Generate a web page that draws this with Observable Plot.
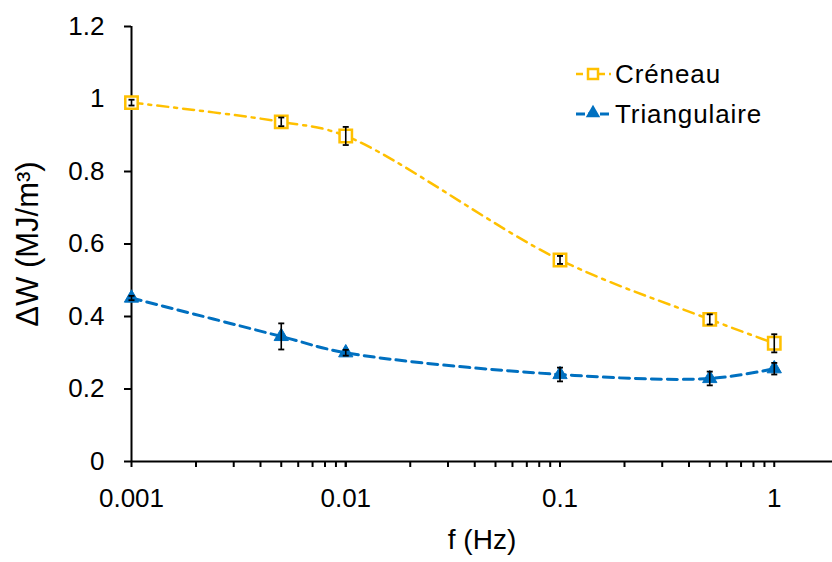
<!DOCTYPE html>
<html>
<head>
<meta charset="utf-8">
<script src="https://cdn.jsdelivr.net/npm/d3@7"></script>
<script src="https://cdn.jsdelivr.net/npm/@observablehq/plot@0.6"></script>
<style>
  body { margin: 0; background: #fff; font-family: "Liberation Sans", Arial, sans-serif; }
  #wrap { position: relative; width: 832px; height: 562px; }
  #legend { position: absolute; left: 573px; top: 54px; font-size: 26px; letter-spacing: 0.9px; color: #000; }
  #legend div { display: flex; align-items: center; height: 40px; }
  #legend svg { margin-right: 2px; }
</style>
</head>
<body>
<div id="wrap">
  <div id="chart"></div>
  <div id="legend"></div>
</div>
<script>
const freqs = [0.001, 0.005, 0.01, 0.1, 0.5, 1];
const creneau = [0.99, 0.937, 0.898, 0.556, 0.392, 0.326];
const creneauErr = [0.008, 0.012, 0.025, 0.011, 0.014, 0.025];
const triang = [0.451, 0.345, 0.300, 0.240, 0.229, 0.256];
const triangErr = [0.006, 0.036, 0.008, 0.019, 0.019, 0.016];
const seriesNames = ["Créneau", "Triangulaire"];
const colors = {"Créneau": "#FFC000", "Triangulaire": "#0070C0"};
const xTickLabels = [0.001, 0.01, 0.1, 1];
const yTicks = [0, 0.2, 0.4, 0.6, 0.8, 1, 1.2];
const xTitle = "f (Hz)";
const yTitle = "ΔW (MJ/m³)";

const cData = freqs.map((f, i) => ({f, v: creneau[i], e: creneauErr[i]}));
const tData = freqs.map((f, i) => ({f, v: triang[i], e: triangErr[i]}));
const allData = cData.concat(tData);

const minorTicks = [];
for (const d of [0.001, 0.01, 0.1]) for (let k = 1; k <= 10; k++) minorTicks.push(+(d * k).toPrecision(3));

const capSymbol = {draw(ctx, size) { const r = Math.sqrt(size) / 2; ctx.moveTo(-r, 0); ctx.lineTo(r, 0); }};

const fmt = d => String(d);

const chart = Plot.plot({
  width: 832,
  height: 562,
  marginLeft: 131,
  marginRight: 0,
  marginTop: 26,
  marginBottom: 101,
  style: {fontFamily: "Liberation Sans, Arial, sans-serif", fontSize: "26px", color: "#000", background: "#fff", overflow: "visible"},
  x: {type: "log", domain: [0.001, 1.87]},
  y: {domain: [0, 1.2]},
  marks: [
    Plot.axisX({ticks: minorTicks, tickFormat: null, tickSize: 6, stroke: "#000", strokeWidth: 2, text: null, label: null}),
    Plot.axisX({ticks: xTickLabels, tickFormat: fmt, tickSize: 0, tickPadding: 27, fontSize: 26, label: null}),
    Plot.axisY({ticks: yTicks, tickFormat: fmt, tickSize: 7, tickPadding: 20, strokeWidth: 2, fontSize: 26, label: null}),
    Plot.text([xTitle], {frameAnchor: "bottom", dy: 87, fontSize: 28, fill: "#000"}),
    Plot.text([yTitle], {frameAnchor: "left", textAnchor: "middle", rotate: -90, dx: -103, fontSize: 31, fill: "#000"}),
    Plot.ruleY([0], {stroke: "#000", strokeWidth: 2}),
    Plot.ruleX([0.001], {stroke: "#000", strokeWidth: 2}),
    Plot.line(cData, {x: "f", y: "v", curve: "catmull-rom", stroke: colors["Créneau"], strokeWidth: 2.5, strokeDasharray: "11,6,3,6"}),
    Plot.line(tData, {x: "f", y: "v", curve: "catmull-rom", stroke: colors["Triangulaire"], strokeWidth: 3, strokeDasharray: "10,6"}),
    Plot.dot(cData, {x: "f", y: "v", symbol: "square", r: 7, fill: "#fff", stroke: colors["Créneau"], strokeWidth: 2.5}),
    Plot.dot(tData, {x: "f", y: "v", symbol: "triangle", r: 5.3, fill: colors["Triangulaire"], stroke: colors["Triangulaire"], strokeWidth: 1}),
    Plot.ruleX(allData, {x: "f", y1: d => d.v - d.e, y2: d => d.v + d.e, stroke: "#000", strokeWidth: 1.6}),
    Plot.dot(allData, {x: "f", y: d => d.v - d.e, symbol: capSymbol, r: 3.4, stroke: "#000", strokeWidth: 1.8}),
    Plot.dot(allData, {x: "f", y: d => d.v + d.e, symbol: capSymbol, r: 3.4, stroke: "#000", strokeWidth: 1.8})
  ]
});
document.getElementById("chart").appendChild(chart);

// Legend
const legend = document.getElementById("legend");
seriesNames.forEach(name => {
  const row = document.createElement("div");
  const sw = d3.create("svg").attr("width", 40).attr("height", 20);
  sw.append("line").attr("x1", 3).attr("x2", 38).attr("y1", 10).attr("y2", 10)
    .attr("stroke", colors[name]).attr("stroke-width", name === "Créneau" ? 2.5 : 3)
    .attr("stroke-dasharray", name === "Créneau" ? "7,4" : "9,3");
  if (name === "Créneau") {
    sw.append("rect").attr("x", 15).attr("y", 5).attr("width", 10).attr("height", 10)
      .attr("fill", "#fff").attr("stroke", colors[name]).attr("stroke-width", 2.5);
  } else {
    sw.append("path").attr("d", d3.symbol(d3.symbolTriangle, 90)()).attr("transform", "translate(20,9)")
      .attr("fill", colors[name]);
  }
  row.appendChild(sw.node());
  const t = document.createElement("span");
  t.textContent = name;
  row.appendChild(t);
  legend.appendChild(row);
});
</script>
</body>
</html>
